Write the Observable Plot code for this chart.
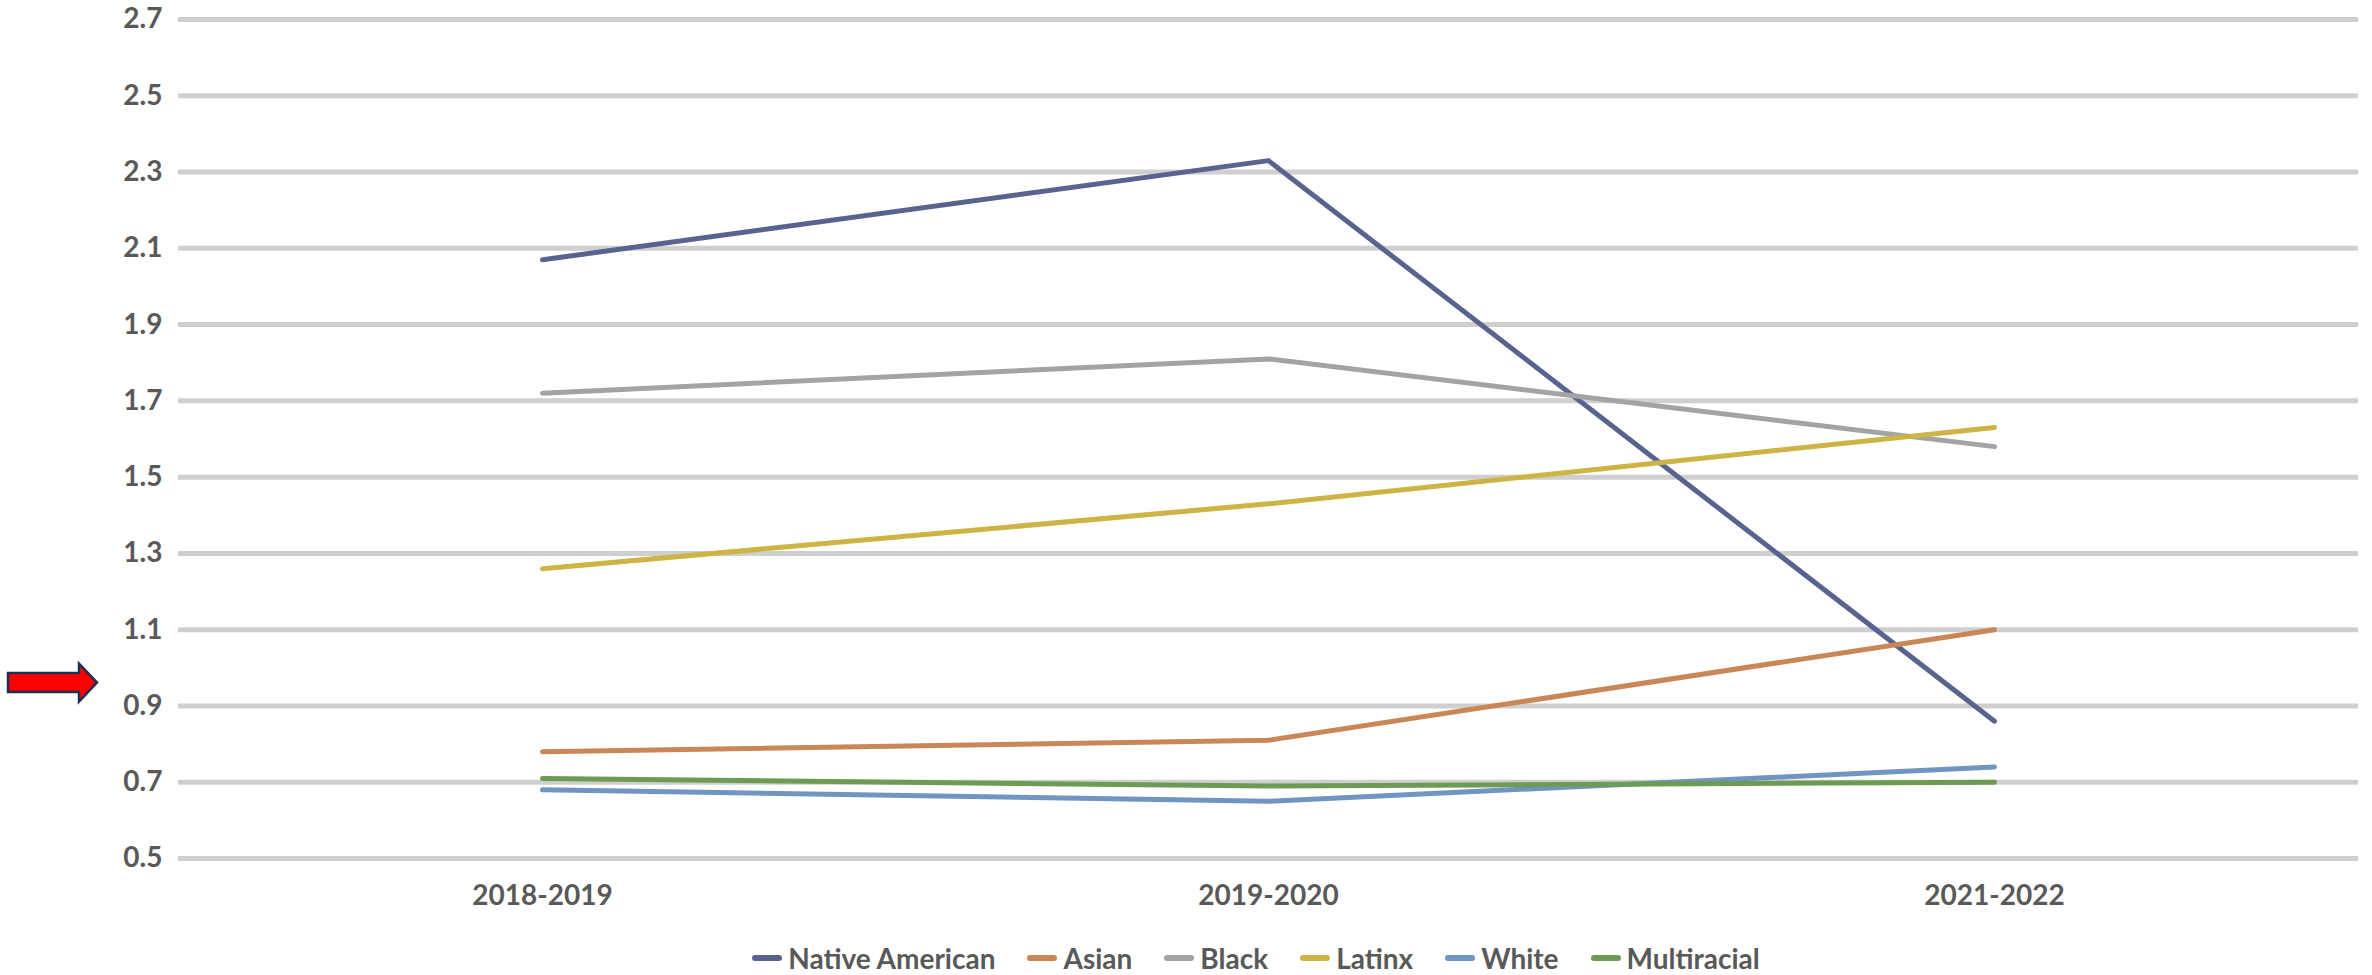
<!DOCTYPE html>
<html>
<head>
<meta charset="utf-8">
<script src="https://cdn.jsdelivr.net/npm/d3@7"></script>
<script src="https://cdn.jsdelivr.net/npm/@observablehq/plot@0.6"></script>
<style>
  html, body { margin: 0; padding: 0; background: #ffffff; }
  #chart { width: 2372px; }
  .legend {
    display: flex; justify-content: center; align-items: center;
    width: 2372px; box-sizing: border-box;
    height: 50px; margin-top: 8px; padding-left: 140px;
    font-family: Lato, "Open Sans", sans-serif; font-weight: 700;
    font-size: 28px; color: #595959;
  }
  .legend .item { display: flex; align-items: center; margin: 0 16px; }
  .legend .swatch { width: 30px; height: 6px; border-radius: 3px; margin-right: 6px; }
</style>
</head>
<body>
<div id="chart"></div>
<script>
// School years on the x axis
const years = ["2018-2019", "2019-2020", "2021-2022"];

// One value per school year for each group
const nativeAmerican = [2.07, 2.33, 0.86];
const asian          = [0.78, 0.81, 1.10];
const black          = [1.72, 1.81, 1.58];
const latinx         = [1.26, 1.43, 1.63];
const white          = [0.68, 0.65, 0.74];
const multiracial    = [0.71, 0.69, 0.70];

const groups = ["Native American", "Asian", "Black", "Latinx", "White", "Multiracial"];
const seriesValues = [nativeAmerican, asian, black, latinx, white, multiracial];
const groupColors = ["#58638f", "#c98656", "#a3a3a3", "#cdb444", "#6f95c0", "#6c9c54"];

// Value-axis ticks
const yTicks = [0.5, 0.7, 0.9, 1.1, 1.3, 1.5, 1.7, 1.9, 2.1, 2.3, 2.5, 2.7];

// Value the red pointer on the left margin points at
const pointerValue = 0.96;

// Long-format table for the line marks
const rows = groups.flatMap((g, i) =>
  years.map((yr, j) => ({group: g, year: yr, value: seriesValues[i][j]}))
);

// Block arrow drawn in the left margin at a y-scale position
function pointer(value) {
  return (index, scales, values, dims) => {
    const cy = scales.y(value);
    const x0 = dims.marginLeft - 170, xh = dims.marginLeft - 99, xt = dims.marginLeft - 81;
    const sh = 9.5, hh = 19;
    const p = d3.create("svg:path")
      .attr("d", `M${x0},${cy - sh}L${xh},${cy - sh}L${xh},${cy - hh}L${xt},${cy}L${xh},${cy + hh}L${xh},${cy + sh}L${x0},${cy + sh}Z`)
      .attr("fill", "#ff0000")
      .attr("stroke", "#1f2f52")
      .attr("stroke-width", 2.5)
      .attr("stroke-linejoin", "miter");
    return p.node();
  };
}

const chart = Plot.plot({
  width: 2372,
  height: 925,
  marginTop: 19,
  marginBottom: 67,
  marginLeft: 178,
  marginRight: 14,
  style: {fontFamily: "Lato, 'Open Sans', sans-serif", fontWeight: 700, fontSize: "28px", color: "#595959", background: "#ffffff"},
  x: {type: "point", domain: years, padding: 0.5},
  y: {domain: [0.5, 2.7]},
  color: {domain: groups, range: groupColors},
  marks: [
    Plot.gridY(yTicks, {stroke: "#cfcfcf", strokeOpacity: 1, strokeWidth: 5}),
    Plot.axisY(yTicks, {tickSize: 0, tickPadding: 16, tickFormat: d3.format(".1f"), label: null, fontSize: 28}),
    Plot.axisX({tickSize: 0, tickPadding: 27, label: null, fontSize: 28}),
    Plot.lineY(rows, {x: "year", y: "value", z: "group", stroke: "group", strokeWidth: 5, strokeLinecap: "round", strokeLinejoin: "round"}),
    pointer(pointerValue)
  ]
});
document.getElementById("chart").appendChild(chart);

// Legend below the chart, centred under the plot frame
const legend = d3.select("body").append("div").attr("class", "legend");
groups.forEach((g, i) => {
  const item = legend.append("div").attr("class", "item");
  item.append("div").attr("class", "swatch").style("background", groupColors[i]);
  item.append("span").text(g);
});
</script>
</body>
</html>
